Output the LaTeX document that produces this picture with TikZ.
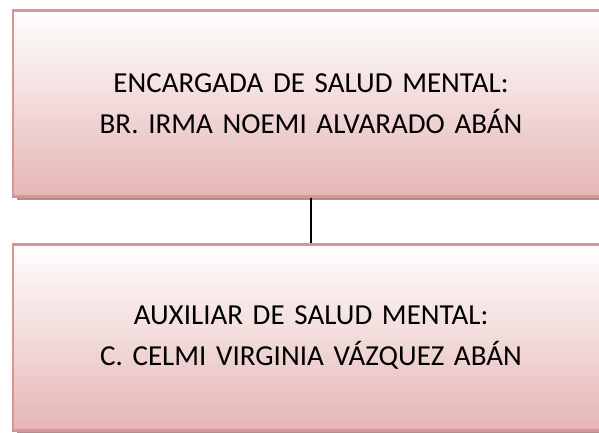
\documentclass[tikz,border=0pt]{standalone}
\usepackage{fontspec}
\setmainfont{Carlito}
\usetikzlibrary{positioning, shadows}
\definecolor{roseline}{RGB}{217,149,148}
\definecolor{rosefill}{RGB}{229,182,181}
\definecolor{roseshadow}{RGB}{180,140,140}
\begin{document}
\begin{tikzpicture}[
        x=1pt, y=1pt,
        post/.style={
            draw=roseline,
            line width=2.5pt,
            top color=white,
            bottom color=rosefill,
            general shadow={fill=roseshadow, shadow xshift=4pt, shadow yshift=-4pt},
            minimum width=596pt,
            minimum height=186pt,
            text width=570pt,
            align=center,
            font=\fontsize{29}{41}\selectfont
        },
        link/.style={line width=1.5pt}
    ]
        \useasboundingbox (0,0) rectangle (599,433);

        % Top box
        \node[post] (encargada) at (311, 329.5)
            {ENCARGADA DE SALUD MENTAL:\\BR. IRMA NOEMI ALVARADO ABÁN};

        % Bottom box
        \node[post] (auxiliar) at (311, 95.5)
            {AUXILIAR DE SALUD MENTAL:\\C. CELMI VIRGINIA VÁZQUEZ ABÁN};

        % Connector
        \draw[link] (encargada.south) -- (auxiliar.north);

    \end{tikzpicture}
\end{document}
